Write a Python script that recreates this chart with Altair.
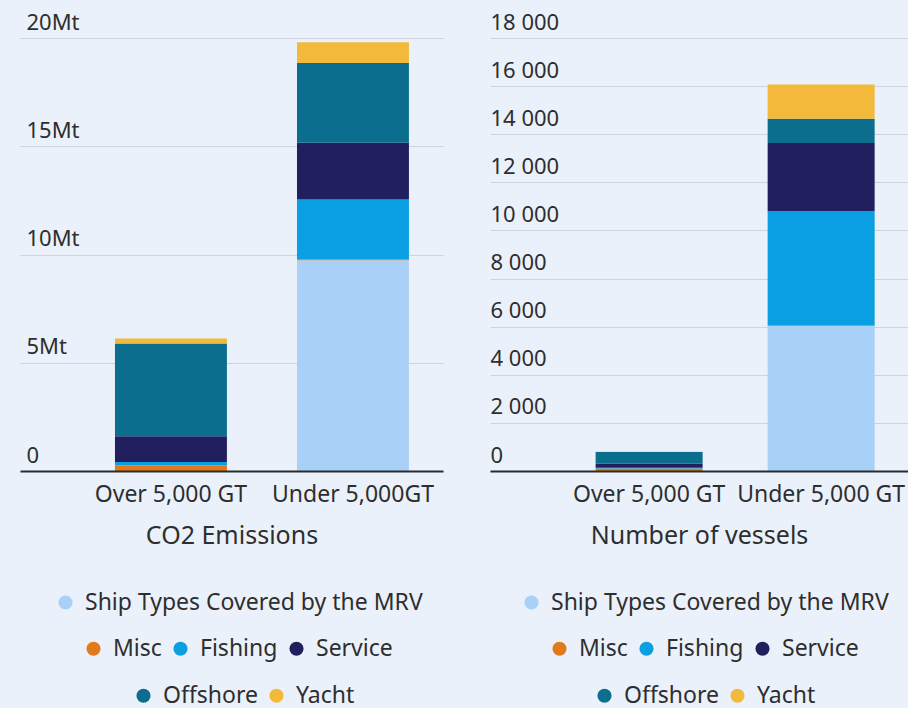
import altair as alt
import pandas as pd

# ---- data ----
categories = ["Over 5,000 GT", "Under 5,000GT"]
categories_r = ["Over 5,000 GT", "Under 5,000 GT"]
series = ["Ship Types Covered by the MRV", "Misc", "Fishing", "Service", "Offshore", "Yacht"]
colors = ["#A9D1F7", "#E07B1D", "#0A9FE2", "#221F5E", "#0B6E8E", "#F2B93B"]

co2_over = [0.0, 0.26, 0.15, 1.19, 4.29, 0.23]      # Mt
co2_under = [9.74, 0.03, 2.77, 2.62, 3.69, 0.95]    # Mt
ves_over = [0, 100, 40, 170, 480, 15]               # vessels
ves_under = [6030, 20, 4750, 2840, 1000, 1430]      # vessels

groups = [[0], [1, 2, 3], [4, 5]]

FONT = "Noto Sans"
TXT = "#2E2E2E"


def make_df(cats, over, under):
    rows = []
    for c, vals in zip(cats, [over, under]):
        for i, (s, v) in enumerate(zip(series, vals)):
            rows.append({"cat": c, "series": s, "value": v, "order": i})
    return pd.DataFrame(rows)


def panel(df, cats, ydomain, yvalues, labelexpr, label_pad, title, width, xscale, legend_pos):
    base = alt.Chart(df).transform_stack(
        stack="value", groupby=["cat"], as_=["v0", "v1"],
        sort=[alt.SortField("order", order="ascending")]
    )
    layers = []
    for gi, g in enumerate(groups):
        names = [series[i] for i in g]
        cols = [colors[i] for i in g]
        lx, ly = legend_pos[gi]
        layer = base.transform_filter(
            alt.FieldOneOfPredicate(field="series", oneOf=names)
        ).mark_bar().encode(
            x=alt.X("cat:N", sort=cats,
                    scale=xscale,
                    axis=alt.Axis(title=title, labelAngle=0, labelFont=FONT, labelFontSize=23,
                                  labelColor=TXT, titleFont=FONT, titleFontSize=25,
                                  titleFontWeight="normal", titleColor=TXT, ticks=False,
                                  domainColor="#2b2b2b", domainWidth=2, labelPadding=12,
                                  titlePadding=17, zindex=1)),
            y=alt.Y("v0:Q", scale=alt.Scale(domain=ydomain, nice=False),
                    axis=alt.Axis(title=None, values=yvalues, labelExpr=labelexpr,
                                  labelAlign="left", labelPadding=label_pad, labelBaseline="alphabetic",
                                  labelOffset=-9, labelFont=FONT, labelFontSize=22, labelColor=TXT,
                                  domain=False, ticks=False, gridColor="#CDD4DE", gridWidth=1,
                                  labelFlush=False, labelOverlap=False)),
            y2="v1:Q",
            color=alt.Color("series:N",
                            scale=alt.Scale(domain=names, range=cols),
                            legend=alt.Legend(title=None, orient="none", legendX=lx, legendY=ly,
                                              direction="horizontal", symbolType="circle",
                                              symbolSize=200, symbolStrokeWidth=0,
                                              labelFont=FONT, labelFontSize=23, labelColor=TXT,
                                              labelOffset=8, columnPadding=7, padding=0,
                                              labelLimit=500)),
        )
        layers.append(layer)
    return alt.layer(*layers).resolve_scale(color="independent").properties(width=width, height=433)


df_left = make_df(categories, co2_over, co2_under)
df_right = make_df(categories_r, ves_over, ves_under)

left = panel(
    df_left, categories, [0, 20], [0, 5, 10, 15, 20],
    "datum.value == 0 ? '0' : datum.value + 'Mt'", -6, "CO2 Emissions", 423,
    alt.Scale(paddingInner=0.385, paddingOuter=0.3545, align=0.736),
    [(34, 553), (62, 599), (112, 646)],
)
right = panel(
    df_right, categories_r, [0, 18000], list(range(0, 18001, 2000)),
    "replace(format(datum.value, ','), ',', ' ')", 0, "Number of vessels", 418,
    alt.Scale(paddingInner=0.378, paddingOuter=0.404, align=0.76),
    [(30, 553), (58, 599), (103, 646)],
)

chart = alt.hconcat(left, right, spacing=47, bounds="flush").resolve_scale(
    color="independent"
).properties(
    padding={"left": 20, "top": 11, "right": 0, "bottom": 0},
    background="#EBF1FA",
).configure_view(stroke=None)

chart.save("out.html", embed_options={"renderer": "svg", "actions": False})
